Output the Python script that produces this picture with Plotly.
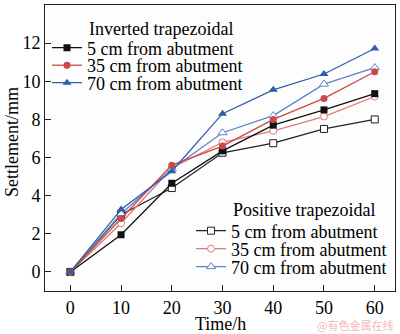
import plotly.graph_objects as go

# Settlement measurements (mm) at each elapsed time (h)
time_h = [0, 10, 20, 30, 40, 50, 60]

inv_5cm = [0, 1.95, 4.65, 6.35, 7.7, 8.5, 9.35]
inv_35cm = [0, 2.8, 5.6, 6.6, 8.0, 9.1, 10.5]
inv_70cm = [0, 3.28, 5.28, 8.3, 9.55, 10.38, 11.72]

pos_5cm = [0, 3.0, 4.4, 6.25, 6.75, 7.5, 8.0]
pos_35cm = [0, 2.55, 5.45, 6.8, 7.4, 8.15, 9.2]
pos_70cm = [0, 3.05, 5.4, 7.3, 8.2, 9.85, 10.72]

labels = ["5 cm from abutment", "35 cm from abutment", "70 cm from abutment"]
group_titles = ["Inverted trapezoidal", "Positive trapezoidal"]

x_ticks = [0, 10, 20, 30, 40, 50, 60]
y_ticks = [0, 2, 4, 6, 8, 10, 12, 14]

FONT = "Times New Roman, Liberation Serif, DejaVu Serif, serif"
W, H = 400, 334
ML, MR, MT, MB = 45, 5, 5, 43
PW, PH = W - ML - MR, H - MT - MB

inv_colors = ["#111111", "#cc4848", "#2e5ea8"]
pos_colors = ["#222222", "#e07a7a", "#5b86c6"]
symbols = ["square", "circle", "triangle-up"]
marker_sizes = [7, 7, 8]


def px_to_paper_x(px):
    return (px - ML) / PW


def px_to_paper_y(py):
    return (MT + PH - py) / PH


fig = go.Figure()

series = [
    (pos_5cm, pos_colors[0], 0, labels[0], True),
    (pos_35cm, pos_colors[1], 1, labels[1], True),
    (pos_70cm, pos_colors[2], 2, labels[2], True),
    (inv_5cm, inv_colors[0], 0, labels[0], False),
    (inv_35cm, inv_colors[1], 1, labels[1], False),
    (inv_70cm, inv_colors[2], 2, labels[2], False),
]

# each trace gets its own one-item legend so entries can be spaced tightly
legend_ids = ["legend4", "legend5", "legend6", "legend", "legend2", "legend3"]
item_y = {"legend": 48, "legend2": 65.5, "legend3": 83,
          "legend4": 231, "legend5": 249, "legend6": 267}
item_x = {"legend": 47, "legend2": 47, "legend3": 47,
          "legend4": 191, "legend5": 191, "legend6": 191}

for (vals, color, k, name, hollow), lid in zip(series, legend_ids):
    marker = dict(symbol=symbols[k], size=marker_sizes[k],
                  color="white" if hollow else color,
                  line=dict(color=color, width=1 if hollow else 0))
    fig.add_trace(go.Scatter(
        x=time_h, y=vals, mode="lines+markers", name=name,
        line=dict(color=color, width=1.3), marker=marker,
        legend=lid, showlegend=True,
    ))

legend_layouts = {}
for lid in legend_ids:
    legend_layouts[lid] = dict(
        x=px_to_paper_x(item_x[lid]), y=px_to_paper_y(item_y[lid]),
        xanchor="left", yanchor="middle",
        bgcolor="rgba(0,0,0,0)", borderwidth=0,
        font=dict(family=FONT, size=18, color="black"),
        itemwidth=30,
    )

annotations = [
    dict(text=group_titles[0], x=px_to_paper_x(87), y=px_to_paper_y(29),
         xref="paper", yref="paper", xanchor="left", yanchor="middle",
         showarrow=False, font=dict(family=FONT, size=18, color="black")),
    dict(text=group_titles[1], x=px_to_paper_x(231), y=px_to_paper_y(210),
         xref="paper", yref="paper", xanchor="left", yanchor="middle",
         showarrow=False, font=dict(family=FONT, size=18, color="black")),
    dict(text="Time/h", x=px_to_paper_x(220), y=px_to_paper_y(324),
         xref="paper", yref="paper", xanchor="center", yanchor="middle",
         showarrow=False, font=dict(family=FONT, size=18, color="black")),
    dict(text="Settlement/mm", x=px_to_paper_x(12), y=px_to_paper_y(142),
         xref="paper", yref="paper", xanchor="center", yanchor="middle",
         textangle=-90, showarrow=False,
         font=dict(family=FONT, size=18, color="black")),
    dict(text="@有色金属在线", x=px_to_paper_x(395), y=px_to_paper_y(325),
         xref="paper", yref="paper", xanchor="right", yanchor="middle",
         showarrow=False,
         font=dict(family="Noto Sans CJK SC", size=11, color="#f2b8b8")),
]

axis_common = dict(
    showline=True, linecolor="#222222", linewidth=1, mirror=True,
    ticks="inside", ticklen=6, tickwidth=1, tickcolor="#222222",
    showgrid=False, zeroline=False, automargin=False,
    tickfont=dict(family=FONT, size=18, color="black"),
)

fig.update_layout(
    width=W, height=H,
    margin=dict(l=ML, r=MR, t=MT, b=MB),
    paper_bgcolor="white", plot_bgcolor="#fdfdfd",
    xaxis=dict(range=[-5, 64], tickvals=x_ticks, **axis_common),
    yaxis=dict(range=[-1, 14], tickvals=y_ticks, **axis_common),
    annotations=annotations,
    **legend_layouts,
)

fig.write_html("out.html")
